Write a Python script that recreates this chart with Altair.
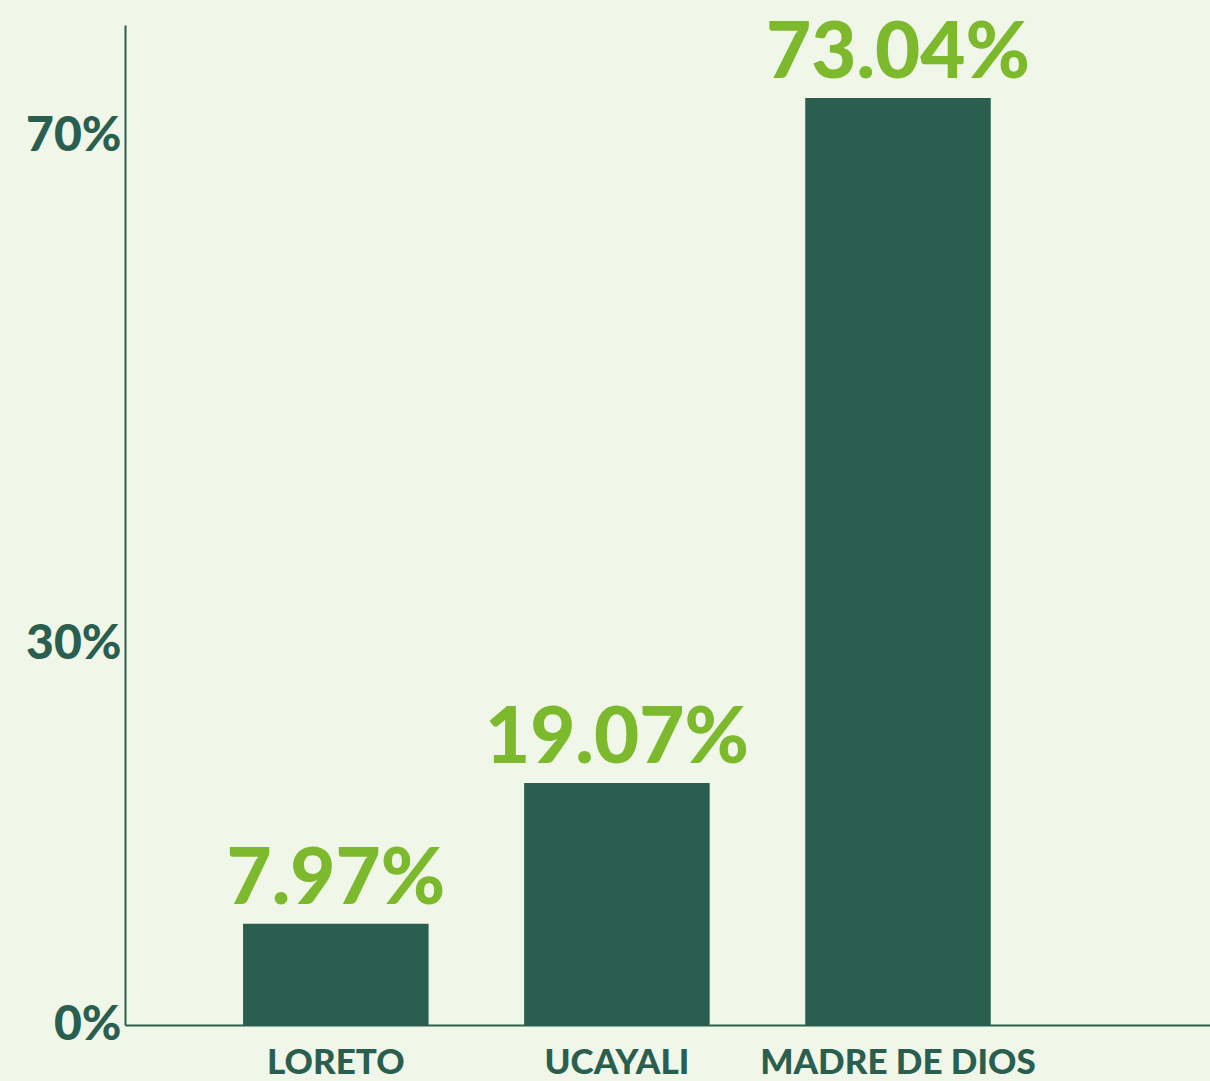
import altair as alt
import pandas as pd

regions = ["LORETO", "UCAYALI", "MADRE DE DIOS"]
values = [7.97, 19.07, 73.04]
value_labels = ["7.97%", "19.07%", "73.04%"]
y_ticks = [0, 30, 70]

df = pd.DataFrame({"region": regions, "value": values, "label": value_labels})

BG = "#f0f6e8"
DARK = "#2a5e4f"
LIME = "#7cb92c"

x = alt.X(
    "region:N",
    sort=regions,
    scale=alt.Scale(paddingInner=0.34, paddingOuter=0.6, align=0.35),
    axis=alt.Axis(
        title=None,
        labelAngle=0,
        labelFont="Lato",
        labelFontWeight=900,
        labelFontSize=35,
        labelColor=DARK,
        labelPadding=20,
        labelBaseline="top",
        labelLimit=0,
        ticks=False,
        domainColor=DARK,
        domainWidth=2,
    ),
)

y = alt.Y(
    "value:Q",
    scale=alt.Scale(domain=[0, 78.8], nice=False),
    axis=alt.Axis(
        title=None,
        values=y_ticks,
        labelExpr="datum.value + '%'",
        labelFont="Lato",
        labelFontWeight=900,
        labelFontSize=48,
        labelColor=DARK,
        labelPadding=4,
        ticks=False,
        grid=False,
        domainColor=DARK,
        domainWidth=2,
    ),
)

bars = alt.Chart(df).mark_bar(color=DARK).encode(x=x, y=y)

labels = alt.Chart(df).mark_text(
    font="Lato",
    fontWeight=900,
    fontSize=78,
    color=LIME,
    baseline="alphabetic",
    dy=-20,
).encode(x=x, y=y, text="label:N")

chart = (
    alt.layer(bars, labels)
    .properties(
        width=1085,
        height=1000,
        background=BG,
        padding={"left": 125, "top": 25, "right": 0, "bottom": 56},
        autosize=alt.AutoSizeParams(type="none"),
    )
    .configure_view(stroke=None)
)

chart.save("out.html", embed_options={"renderer": "svg", "actions": False})
